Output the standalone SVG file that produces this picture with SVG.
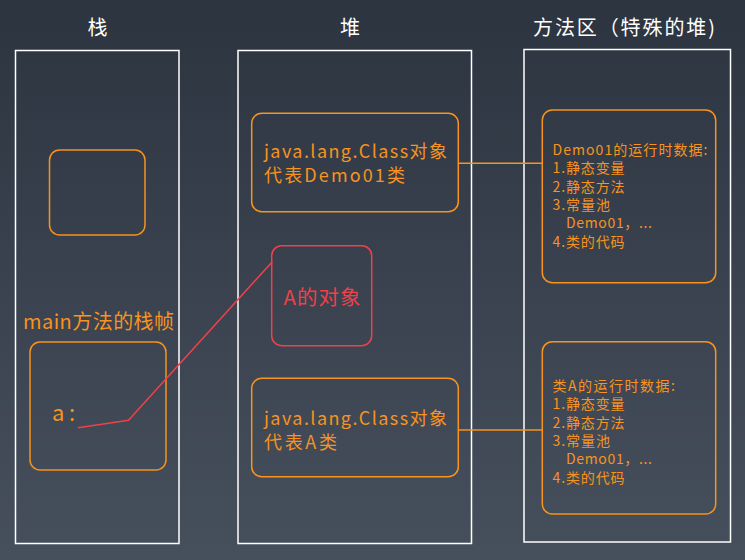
<svg xmlns="http://www.w3.org/2000/svg" width="745" height="560" viewBox="0 0 745 560">
<defs>
<linearGradient id="bg" x1="0" y1="0" x2="0" y2="1">
<stop offset="0" stop-color="#2c3440"/>
<stop offset="1" stop-color="#46505c"/>
</linearGradient>
</defs>
<style>
text{font-family:"Noto Sans CJK SC","Noto Sans",sans-serif}
.col{fill:none;stroke:#ffffff;stroke-width:1.5}
.title{fill:#ffffff;font-size:20px;text-anchor:middle}
.ob{fill:none;stroke:#f7931e;stroke-width:1.5}
.ot{fill:#f7931e}
.rb{fill:none;stroke:#f0404a;stroke-width:1.5}
.rt{fill:#f0404a}
.link{fill:none;stroke:#f7931e;stroke-width:1.5}
.ref{fill:none;stroke:#f0404a;stroke-width:1.5}
.small{font-size:14px}
.big{font-size:18px}
</style>
<rect width="745" height="560" fill="url(#bg)"/>
<g id="stack">
<rect class="col" x="15.5" y="50.5" width="163.5" height="493"/>
<text class="title" x="97.5" y="35">栈</text>
</g>
<g id="heap">
<rect class="col" x="238" y="50.5" width="233.5" height="493"/>
<text class="title" x="350" y="35">堆</text>
</g>
<g id="method-area">
<rect class="col" x="524" y="49.5" width="206.5" height="492.5"/>
<text class="title" x="624" y="35" textLength="182" lengthAdjust="spacing">方法区（特殊的堆)</text>
</g>
<g id="stack-frame-empty">
<rect class="ob" x="49.5" y="150" width="95.5" height="85" rx="10"/>
</g>
<g id="main-frame">
<text class="ot" x="23" y="329" style="font-size:20px" textLength="151" lengthAdjust="spacing">main方法的栈帧</text>
<rect class="ob" x="30" y="342" width="136" height="128" rx="10"/>
<text class="ot" x="52" y="421" style="font-size:22px" textLength="23" lengthAdjust="spacing">a:</text>
</g>
<g id="class-demo01">
<rect class="ob" x="251.7" y="113.3" width="206.6" height="98.4" rx="10"/>
<text class="ot big" x="264" y="158" textLength="183" lengthAdjust="spacing">java.lang.Class对象</text>
<text class="ot big" x="264" y="182" textLength="141" lengthAdjust="spacing">代表Demo01类</text>
</g>
<g id="a-object">
<rect class="rb" x="271.7" y="245.7" width="100" height="100" rx="10"/>
<text class="rt" x="283.5" y="305" style="font-size:20.5px" textLength="77" lengthAdjust="spacing">A的对象</text>
</g>
<g id="class-a">
<rect class="ob" x="251.7" y="378.3" width="206.6" height="98.4" rx="10"/>
<text class="ot big" x="264" y="425" textLength="183" lengthAdjust="spacing">java.lang.Class对象</text>
<text class="ot big" x="264" y="449" textLength="73" lengthAdjust="spacing">代表A类</text>
</g>
<g id="demo01-data">
<rect class="ob" x="542.3" y="110" width="173.4" height="172.7" rx="10"/>
<text class="ot small" x="552.5" y="155" textLength="155" lengthAdjust="spacing">Demo01的运行时数据:</text>
<text class="ot small" x="552.5" y="173.3" textLength="72" lengthAdjust="spacing">1.静态变量</text>
<text class="ot small" x="552.5" y="191.6" textLength="72" lengthAdjust="spacing">2.静态方法</text>
<text class="ot small" x="552.5" y="210" textLength="57.5" lengthAdjust="spacing">3.常量池</text>
<text class="ot small" x="566" y="228.3" textLength="86" lengthAdjust="spacing">Demo01，...</text>
<text class="ot small" x="552.5" y="246.6" textLength="72" lengthAdjust="spacing">4.类的代码</text>
</g>
<g id="a-data">
<rect class="ob" x="542.3" y="341.7" width="173.4" height="172.3" rx="10"/>
<text class="ot small" x="552.5" y="391" textLength="122.5" lengthAdjust="spacing">类A的运行时数据:</text>
<text class="ot small" x="552.5" y="409.3" textLength="72" lengthAdjust="spacing">1.静态变量</text>
<text class="ot small" x="552.5" y="427.6" textLength="72" lengthAdjust="spacing">2.静态方法</text>
<text class="ot small" x="552.5" y="446" textLength="57.5" lengthAdjust="spacing">3.常量池</text>
<text class="ot small" x="566" y="464.3" textLength="86" lengthAdjust="spacing">Demo01，...</text>
<text class="ot small" x="552.5" y="482.6" textLength="72" lengthAdjust="spacing">4.类的代码</text>
</g>
<g id="connectors">
<line class="link" x1="458.3" y1="163.3" x2="542.3" y2="163.3"/>
<line class="link" x1="458.3" y1="430" x2="542.3" y2="430"/>
<polyline class="ref" points="78,427.7 128.5,420.3 272.3,261.7"/>
</g>
</svg>
